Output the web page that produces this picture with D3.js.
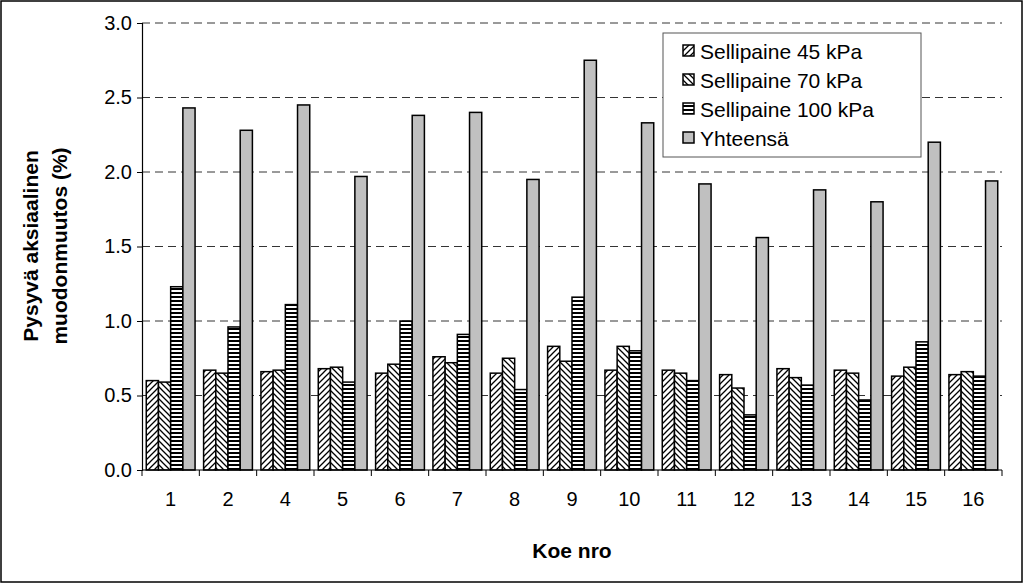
<!DOCTYPE html><html><head><meta charset="utf-8"><script src="https://d3js.org/d3.v7.min.js"></script>
<style>body{margin:0;background:#fff}text{font-family:Arial,"Liberation Sans",sans-serif}</style></head><body>
<svg id="c" width="1024" height="584"></svg>
<script>
const categories=["1","2","4","5","6","7","8","9","10","11","12","13","14","15","16"];
const seriesNames=["Sellipaine 45 kPa","Sellipaine 70 kPa","Sellipaine 100 kPa","Yhteensä"];
const s45=[0.60,0.67,0.66,0.68,0.65,0.76,0.65,0.83,0.67,0.67,0.64,0.68,0.67,0.63,0.64];
const s70=[0.59,0.65,0.67,0.69,0.71,0.72,0.75,0.73,0.83,0.65,0.55,0.62,0.65,0.69,0.66];
const s100=[1.23,0.96,1.11,0.59,1.00,0.91,0.54,1.16,0.80,0.60,0.37,0.57,0.47,0.86,0.63];
const total=[2.43,2.28,2.45,1.97,2.38,2.40,1.95,2.75,2.33,1.92,1.56,1.88,1.80,2.20,1.94];
const yTicks=[0,0.5,1.0,1.5,2.0,2.5,3.0];
const series=[s45,s70,s100,total];
const svg=d3.select("#c");
const defs=svg.append("defs");
function pat(id,draw){const p=defs.append("pattern").attr("id",id).attr("patternUnits","userSpaceOnUse").attr("width",6).attr("height",6);p.append("rect").attr("width",6).attr("height",6).attr("fill","#fff");draw(p);}
pat("p45",p=>p.append("path").attr("d","M0,6L6,0M-1,1L1,-1M5,7L7,5").attr("stroke","#000").attr("stroke-width",1.3));
pat("p70",p=>p.append("path").attr("d","M0,0L6,6M-1,5L1,7M5,-1L7,1").attr("stroke","#000").attr("stroke-width",1.3));
defs.append("pattern").attr("id","p100").attr("patternUnits","userSpaceOnUse").attr("width",4).attr("height",4)
 .call(p=>{p.append("rect").attr("width",4).attr("height",4).attr("fill","#fff");p.append("rect").attr("width",4).attr("height",2).attr("fill","#000");});
const fills=["url(#p45)","url(#p70)","url(#p100)","#c0c0c0"];
svg.append("rect").attr("x",1).attr("y",1).attr("width",1021).attr("height",581).attr("fill","#fff").attr("stroke","#000").attr("stroke-width",1.5);
const L=142,R=1002,T=23,B=470;
const x=d3.scaleBand().domain(categories).range([L,R]);
const y=d3.scaleLinear().domain([0,3]).range([B,T]);
const bw=12.2, gap=(x.bandwidth()-4*bw)/2;
const g=svg.append("g");
g.selectAll(".grid").data(yTicks.slice(1)).join("line").attr("x1",L).attr("x2",R).attr("y1",d=>y(d)).attr("y2",d=>y(d)).attr("stroke","#000").attr("stroke-dasharray","8,5").attr("stroke-width",0.8);
series.forEach((s,si)=>{
 g.selectAll(".b"+si).data(s).join("rect").attr("x",(d,i)=>x(categories[i])+gap+si*bw).attr("width",bw).attr("y",d=>y(d)).attr("height",d=>B-y(d)).attr("fill",fills[si]).attr("stroke","#000").attr("stroke-width",1.5);
});
const ya=d3.axisLeft(y).tickValues(yTicks).tickFormat(d3.format(".1f")).tickSize(5);
svg.append("g").attr("transform",`translate(${L},0)`).call(ya).call(a=>{a.selectAll("text").attr("font-size",20).attr("dx",-2);a.select(".domain").attr("stroke-width",1.2);});
const xa=d3.axisBottom(x).tickSize(0);
const xg=svg.append("g").attr("transform",`translate(0,${B})`).call(xa);
xg.selectAll("text").attr("font-size",20).attr("dy",33);
xg.select(".domain").attr("stroke-width",1.2).attr("d",`M${L},0H${R}`);
svg.append("g").selectAll("line").data(categories.concat(["end"])).join("line").attr("x1",(d,i)=>L+i*x.step()).attr("x2",(d,i)=>L+i*x.step()).attr("y1",B).attr("y2",B+6).attr("stroke","#000");
svg.append("text").attr("x",572).attr("y",558).attr("text-anchor","middle").attr("font-size",21).attr("font-weight","bold").text("Koe nro");
const yl=svg.append("text").attr("transform","translate(50,246) rotate(-90)").attr("text-anchor","middle").attr("font-size",21).attr("font-weight","bold");
yl.append("tspan").attr("x",0).attr("dy",-12).text("Pysyvä aksiaalinen");
yl.append("tspan").attr("x",0).attr("dy",29).text("muodonmuutos (%)");
const lg=svg.append("g").attr("transform","translate(663,33)");
lg.append("rect").attr("width",258).attr("height",124).attr("fill","#fff").attr("stroke","#555");
seriesNames.forEach((n,i)=>{const r=lg.append("g").attr("transform",`translate(20,${18+i*29})`);
 r.append("rect").attr("x",0).attr("y",-6).attr("width",11).attr("height",11).attr("fill",fills[i]).attr("stroke","#000").attr("stroke-width",1.5);
 r.append("text").attr("x",17).attr("y",8).attr("font-size",21).text(n);});
</script></body></html>
